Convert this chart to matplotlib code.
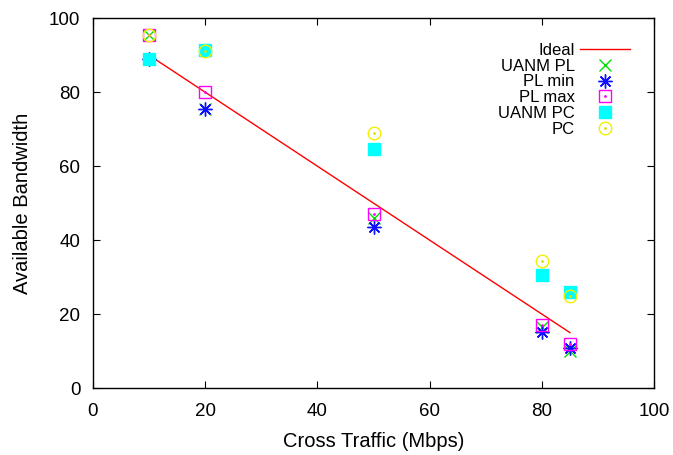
import matplotlib
matplotlib.use('Agg')
import numpy as np
import matplotlib.pyplot as plt
from matplotlib.legend_handler import HandlerTuple

plt.rcParams['font.family'] = ['Liberation Sans', 'DejaVu Sans']

cross_traffic = [10, 20, 50, 80, 85]
ideal_x = [10, 85]
ideal_y = [90, 15]

uanm_pl = [95.5, 75.5, 46, 16.5, 10]
pl_min = [89, 75.5, 43.5, 15.2, 10.8]
pl_max = [95.5, 80, 47, 17, 12]
uanm_pc = [89, 91.5, 64.7, 30.7, 26]
pc = [95.5, 91, 69, 34.3, 25]

fig = plt.figure(figsize=(6.73, 4.55), dpi=100)
ax = fig.add_axes([0.138, 0.147, 0.834, 0.813])

# same drawing order as the legend, later series on top
h_ideal, = ax.plot(ideal_x, ideal_y, color='#ff0000', lw=1)
h_upl, = ax.plot(cross_traffic, uanm_pl, ls='none', marker='x', ms=8,
                 color='#00e000', mew=1)
h_min, = ax.plot(cross_traffic, pl_min, ls='none', marker=(8, 2, 0), ms=10,
                 color='#1010ff', mew=1)
h_max, = ax.plot(cross_traffic, pl_max, ls='none', marker='s', ms=9, mfc='none',
                 mec='#ff00ff', mew=1)
h_maxd, = ax.plot(cross_traffic, pl_max, ls='none', marker='.', ms=2, color='#ff00ff')
h_upc, = ax.plot(cross_traffic, uanm_pc, ls='none', marker='s', ms=9,
                 color='#00ffff', mec='#00ffff')
h_pc, = ax.plot(cross_traffic, pc, ls='none', marker='o', ms=9, mfc='none',
                mec='#f0f000', mew=1)
h_pcd, = ax.plot(cross_traffic, pc, ls='none', marker='.', ms=2, color='#e0e000')

ax.set_xlim(0, 100)
ax.set_ylim(0, 100)
ax.set_xticks(np.arange(0, 101, 20))
ax.set_yticks(np.arange(0, 101, 20))
ax.tick_params(direction='in', top=True, right=True, length=5, labelsize=13.5)
ax.tick_params(axis='x', pad=11)
ax.tick_params(axis='y', pad=9)
for s in ax.spines.values():
    s.set_linewidth(1)
ax.set_xlabel('Cross Traffic (Mbps)', fontsize=14.5, labelpad=8)
ax.set_ylabel('Available Bandwidth', fontsize=14.5, labelpad=12)

ax.legend([h_ideal, h_upl, h_min, (h_max, h_maxd), h_upc, (h_pc, h_pcd)],
          ['Ideal', 'UANM PL', 'PL min', 'PL max', 'UANM PC', 'PC'],
          handler_map={tuple: HandlerTuple(ndivide=1, pad=0)},
          markerfirst=False, frameon=False, loc='upper right',
          bbox_to_anchor=(0.977, 0.965), fontsize=12, handlelength=3.0,
          handletextpad=0.3, labelspacing=0.05, borderaxespad=0.3)

fig.savefig('out.png', dpi=100)
